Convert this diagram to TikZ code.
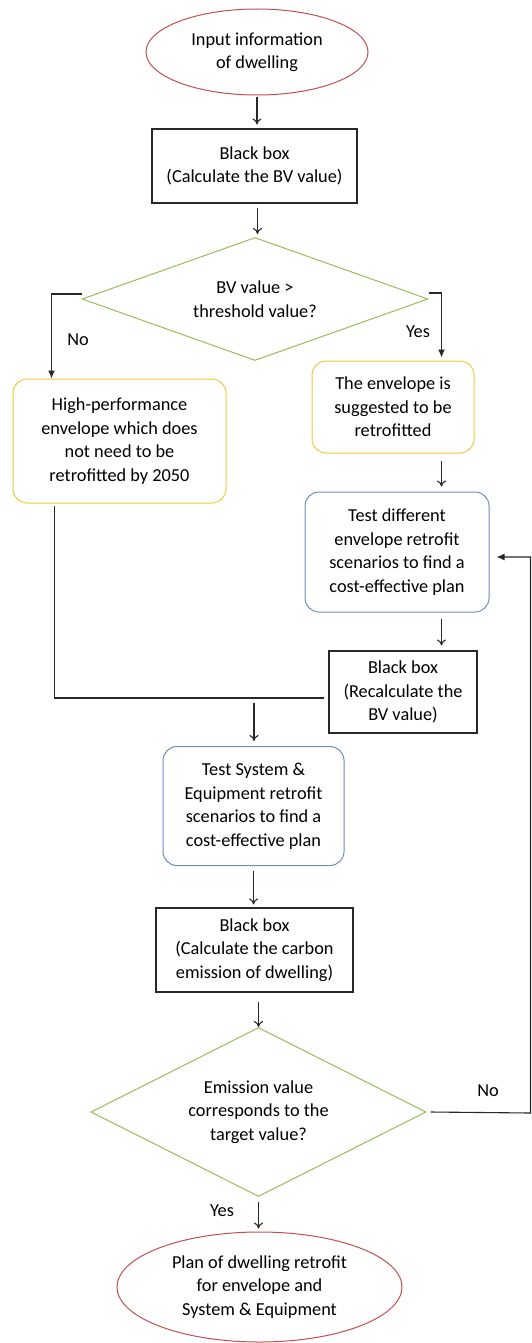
\documentclass[tikz,border=0pt]{standalone}
\usepackage{fontspec}
\setmainfont{Carlito}
\usetikzlibrary{shapes.geometric,arrows.meta}
\definecolor{cred}{RGB}{192,80,77}
\definecolor{cgreen}{RGB}{155,187,89}
\definecolor{cyellow}{RGB}{240,200,60}
\definecolor{cblue}{RGB}{110,140,190}
\definecolor{cline}{RGB}{40,40,40}
\begin{document}
\begin{tikzpicture}[x=1pt,y=-1pt,
  font=\fontsize{18.3}{23.5}\selectfont,
  term/.style={ellipse, draw=cred, line width=1pt, align=center, inner sep=0pt},
  proc/.style={rectangle, draw=cline, line width=1.1pt, align=center, inner sep=0pt},
  dec/.style={diamond, draw=cgreen, line width=1pt, align=center, inner sep=0pt, shape aspect=2.8},
  yel/.style={rectangle, rounded corners=14pt, draw=cyellow, line width=1pt, align=center, inner sep=0pt},
  blu/.style={rectangle, rounded corners=14pt, draw=cblue, line width=1pt, align=center, inner sep=0pt},
  conn/.style={draw=cline, line width=1.1pt},
  arr/.style={conn, -{To[length=6pt,width=9pt]}},
  farr/.style={conn, -{Latex[length=8pt,width=7pt]}},
  lbl/.style={inner sep=0pt}
]
\useasboundingbox (0,0) rectangle (532,1343);

\node[term, minimum width=222, minimum height=86] (start) at (257,52) {Input information\\of dwelling};
\node[proc, minimum width=205, minimum height=74] (bb1) at (254.5,166) {Black box\\(Calculate the BV value)};
\node[dec, minimum width=346, minimum height=123] (d1) at (255,299) {BV value >\\threshold value?};
\node[yel, minimum width=213, minimum height=124] (hp) at (119.5,441) {High-performance\\envelope which does\\not need to be\\retrofitted by 2050};
\node[yel, minimum width=162, minimum height=92] (sug) at (393,407) {The envelope is\\suggested to be\\retrofitted};
\node[blu, minimum width=184, minimum height=120] (ten) at (397,552) {Test different\\envelope retrofit\\scenarios to find a\\cost-effective plan};
\node[proc, minimum width=148, minimum height=82] (bb2) at (403,692) {Black box\\(Recalculate the\\BV value)};
\node[blu, minimum width=181, minimum height=119] (tse) at (253.5,806) {Test System \&\\Equipment retrofit\\scenarios to find a\\cost-effective plan};
\node[proc, minimum width=197, minimum height=84] (bb3) at (254.5,950) {Black box\\(Calculate the carbon\\emission of dwelling)};
\node[dec, minimum width=335, minimum height=169] (d2) at (258.5,1112) {Emission value\\corresponds to the\\target value?};
\node[term, minimum width=285, minimum height=110] (end) at (259.5,1287) {Plan of dwelling retrofit\\for envelope and\\System \& Equipment};

% labels
\node[lbl] (lno1) at (78,340) {No};
\node[lbl] (lyes1) at (418,332) {Yes};
\node[lbl] (lno2) at (488,1091) {No};
\node[lbl] (lyes2) at (222,1211) {Yes};

% coordinates
\coordinate (ysx) at ([xshift=130pt]sug.south west);
\coordinate (tnx) at ([xshift=137pt]ten.south west);
\coordinate (mL) at ([xshift=42pt]hp.south west);
\coordinate (mR) at ([xshift=-4pt,yshift=-6pt]bb2.west);
\coordinate (m) at (254,698);
\coordinate (fb) at (530.5,1113);

% connectors
\draw[arr, shorten <=2pt, shorten >=4pt] (start.south) -- (start.south |- bb1.north);
\draw[arr, shorten <=4pt, shorten >=3pt] ([xshift=3pt]bb1.south) -- ([xshift=3pt]bb1.south |- d1.north);
\draw[farr] ([yshift=5pt]d1.west) -| ([xshift=39pt]hp.north west);
\draw[farr, shorten >=3pt] ([yshift=6pt]d1.east) -| ([xshift=130pt]sug.north west);
\draw[arr, shorten <=7pt, shorten >=5pt] (ysx) -- (ysx |- ten.north);
\draw[arr, shorten <=6pt, shorten >=5pt] (tnx) -- (tnx |- bb2.north);
\draw[conn, shorten <=2pt] (mL) |- (mR);
\draw[arr, shorten <=5pt, shorten >=5pt] (m) -- (m |- tse.north);
\draw[arr, shorten <=5pt, shorten >=3pt] (tse.south) -- (tse.south |- bb3.north);
\draw[arr, shorten <=9pt] (d2.north |- bb3.south) -- (d2.north);
\draw[arr, shorten <=5pt, shorten >=3pt] (d2.south) -- (d2.south |- end.north);
\draw[farr] ([xshift=4pt]d2.east) -- (fb) |- ([xshift=7pt,yshift=-5pt]ten.east);
\end{tikzpicture}
\end{document}
